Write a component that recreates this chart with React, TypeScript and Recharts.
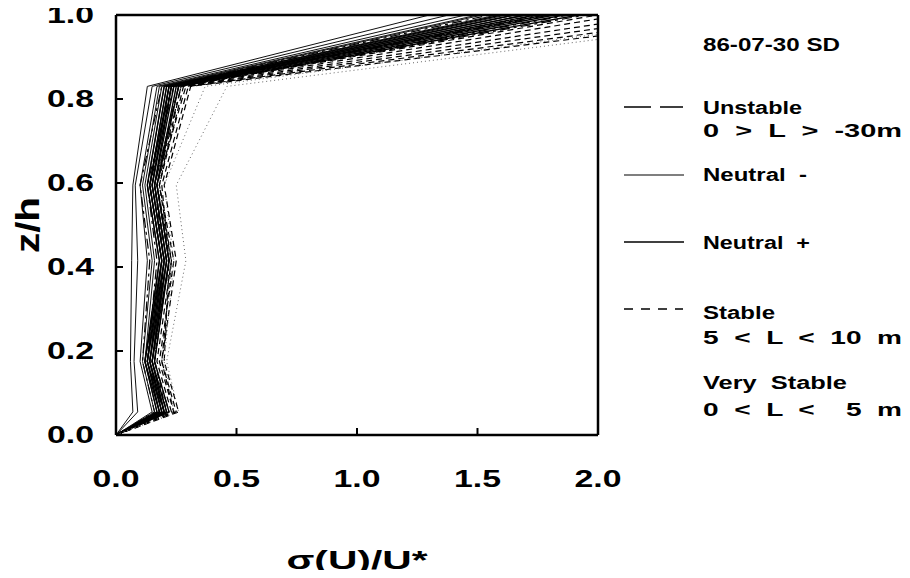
import React from "react";
import { LineChart, Line, XAxis, YAxis, Label } from "recharts";

// heights (z/h) where every profile was sampled
const HEIGHTS = [0, 0.055, 0.175, 0.415, 0.595, 0.83, 1.0];
const X_TICKS = [0, 0.5, 1, 1.5, 2];
const Y_TICKS = [0, 0.2, 0.4, 0.6, 0.8, 1];

// sigma(U)/U* at each height, one array per run
const unstable = [
  [0, 0.2, 0.14, 0.19, 0.14, 0.24, 1.75],
  [0, 0.21, 0.15, 0.21, 0.16, 0.26, 1.88],
  [0, 0.22, 0.16, 0.22, 0.17, 0.27, 1.95],
  [0, 0.16, 0.11, 0.14, 0.1, 0.19, 1.55],
  [0, 0.2, 0.13, 0.17, 0.13, 0.23, 1.8],
];
const neutralMinus = [
  [0, 0.07, 0.06, 0.065, 0.07, 0.13, 1.3],
  [0, 0.09, 0.075, 0.09, 0.08, 0.15, 1.38],
  [0, 0.15, 0.1, 0.13, 0.1, 0.17, 1.45],
  [0, 0.17, 0.12, 0.16, 0.12, 0.19, 1.52],
  [0, 0.18, 0.13, 0.18, 0.13, 0.2, 1.58],
  [0, 0.16, 0.11, 0.15, 0.11, 0.18, 1.5],
  [0, 0.19, 0.14, 0.19, 0.14, 0.21, 1.62],
  [0, 0.2, 0.15, 0.2, 0.15, 0.22, 1.66],
];
const neutralPlus = [
  [0, 0.17, 0.12, 0.18, 0.13, 0.2, 1.6],
  [0, 0.18, 0.13, 0.19, 0.14, 0.21, 1.65],
  [0, 0.19, 0.13, 0.2, 0.15, 0.22, 1.7],
  [0, 0.19, 0.14, 0.2, 0.15, 0.23, 1.74],
  [0, 0.2, 0.14, 0.21, 0.16, 0.23, 1.78],
  [0, 0.2, 0.15, 0.21, 0.16, 0.24, 1.82],
  [0, 0.21, 0.15, 0.22, 0.17, 0.25, 1.86],
  [0, 0.22, 0.16, 0.22, 0.17, 0.26, 1.92],
  [0, 0.18, 0.12, 0.19, 0.14, 0.22, 1.7],
];
const stable = [
  [0, 0.23, 0.17, 0.23, 0.18, 0.27, 2.1],
  [0, 0.24, 0.18, 0.24, 0.18, 0.28, 2.25],
  [0, 0.25, 0.19, 0.23, 0.17, 0.29, 2.4],
  [0, 0.26, 0.2, 0.22, 0.19, 0.3, 2.55],
  [0, 0.24, 0.19, 0.25, 0.2, 0.31, 2.7],
  [0, 0.21, 0.16, 0.2, 0.16, 0.26, 2.0],
];
const veryStable = [
  [0, 0.26, 0.21, 0.29, 0.25, 0.46, 2.8],
  [0, 0.24, 0.2, 0.24, 0.2, 0.37, 2.6],
];

const FONT = "'Liberation Sans', Arial, sans-serif";

const groups = [
  { key: "unstable", runs: unstable, stroke: "#000", width: 1.2, dash: "10 4 3 4" },
  { key: "nminus", runs: neutralMinus, stroke: "#111", width: 1, dash: undefined },
  { key: "nplus", runs: neutralPlus, stroke: "#000", width: 1.4, dash: undefined },
  { key: "stable", runs: stable, stroke: "#000", width: 1.2, dash: "6 4" },
  { key: "vstable", runs: veryStable, stroke: "#666", width: 1, dash: "1 3" },
];

const toPoints = (vals: number[]) => vals.map((s, i) => ({ s, z: HEIGHTS[i] }));

const XTick = (props: any) => {
  const { x, y, payload } = props;
  return (
    <g>
      <line x1={x} y1={y - 10} x2={x} y2={y - 17} stroke="#000" strokeWidth={2} />
      <text
        x={x}
        y={y + 42}
        textAnchor="middle"
        fontFamily={FONT}
        fontWeight="bold"
        fontSize={23}
        textLength={47}
        lengthAdjust="spacingAndGlyphs"
        fill="#000"
      >
        {Number(payload.value).toFixed(1)}
      </text>
    </g>
  );
};

const YTick = (props: any) => {
  const { x, y, payload } = props;
  return (
    <g>
      <line x1={x + 22} y1={y} x2={x + 29} y2={y} stroke="#000" strokeWidth={2} />
      <text
        x={x}
        y={y + 8.2}
        textAnchor="end"
        fontFamily={FONT}
        fontWeight="bold"
        fontSize={23}
        textLength={47}
        lengthAdjust="spacingAndGlyphs"
        fill="#000"
      >
        {Number(payload.value).toFixed(1)}
      </text>
    </g>
  );
};

const legendText = [
  { text: "86-07-30 SD", y: 45, w: 137 },
  { text: "Unstable", y: 108, w: 99 },
  { text: "0  >  L  >  -30m", y: 131, w: 199 },
  { text: "Neutral  -", y: 175, w: 104 },
  { text: "Neutral  +", y: 243, w: 107 },
  { text: "Stable", y: 313, w: 72 },
  { text: "5  <  L  <  10  m", y: 338, w: 199 },
  { text: "Very  Stable", y: 383, w: 144 },
  { text: "0  <  L  <    5  m", y: 410, w: 199 },
];

const LegendBox = () => (
  <svg
    width={910}
    height={578}
    style={{ position: "absolute", left: 0, top: 0, pointerEvents: "none" }}
  >
    <line x1={624} y1={107} x2={683} y2={107} stroke="#000" strokeWidth={1.3} strokeDasharray="27 9" />
    <line x1={624} y1={175} x2={684} y2={175} stroke="#000" strokeWidth={1.1} />
    <line x1={624} y1={242} x2={684} y2={242} stroke="#000" strokeWidth={1.3} />
    <line x1={624} y1={309} x2={683} y2={309} stroke="#000" strokeWidth={1.4} strokeDasharray="9 8" />
    {legendText.map((t) => (
      <text
        key={t.text}
        x={703}
        y={t.y + 6.3}
        fontFamily={FONT}
        fontWeight="bold"
        fontSize={17.5}
        textLength={t.w}
        lengthAdjust="spacingAndGlyphs"
        style={{ whiteSpace: "pre" }}
        fill="#000"
      >
        {t.text}
      </text>
    ))}
  </svg>
);

const frame = { stroke: "#000", strokeWidth: 2.5 };
const tickStroke = { stroke: "#000", strokeWidth: 2 };

export default function App() {
  return (
    <div style={{ position: "relative", width: 910, height: 578, margin: -8, background: "#fff" }}>
      <LineChart width={910} height={578} margin={{ top: 15, right: 312, bottom: 83, left: 0 }}>
        <XAxis
          xAxisId="x"
          dataKey="s"
          type="number"
          domain={[0, 2]}
          ticks={X_TICKS}
          allowDataOverflow
          height={60}
          tickSize={0}
          tickMargin={10}
          tickLine={false}
          axisLine={frame}
          tick={<XTick />}
        >
          <Label
            content={(p: any) => {
              const vb = p.viewBox;
              return (
                <text
                  x={vb.x + vb.width / 2}
                  y={vb.y + 134}
                  textAnchor="middle"
                  fontFamily={FONT}
                  fontWeight="bold"
                  fontSize={25}
                  textLength={141}
                  lengthAdjust="spacingAndGlyphs"
                  fill="#000"
                >
                  σ(U)/U*
                </text>
              );
            }}
          />
        </XAxis>
        <XAxis
          xAxisId="top"
          orientation="top"
          type="number"
          domain={[0, 2]}
          ticks={X_TICKS}
          allowDataOverflow
          mirror
          height={1}
          tick={false}
          tickSize={7}
          tickLine={tickStroke}
          axisLine={frame}
        />
        <YAxis
          yAxisId="y"
          dataKey="z"
          type="number"
          domain={[0, 1]}
          ticks={Y_TICKS}
          allowDataOverflow
          width={116}
          tickSize={0}
          tickMargin={22}
          tickLine={false}
          axisLine={frame}
          tick={<YTick />}
        >
          <Label
            content={(p: any) => {
              const vb = p.viewBox;
              const cy = vb.y + vb.height / 2;
              return (
                <text
                  transform={`translate(28, ${cy}) scale(1.25, 1) rotate(-90)`}
                  x={0}
                  y={9}
                  textAnchor="middle"
                  fontFamily={FONT}
                  fontWeight="bold"
                  fontSize={27}
                  textLength={56}
                  lengthAdjust="spacingAndGlyphs"
                  fill="#000"
                >
                  z/h
                </text>
              );
            }}
          />
        </YAxis>
        <YAxis
          yAxisId="right"
          orientation="right"
          type="number"
          domain={[0, 1]}
          ticks={Y_TICKS}
          allowDataOverflow
          mirror
          width={1}
          tick={false}
          tickSize={7}
          tickLine={tickStroke}
          axisLine={frame}
        />
        {groups.map((g) =>
          g.runs.map((run, i) => (
            <Line
              key={`${g.key}-${i}`}
              xAxisId="x"
              yAxisId="y"
              data={toPoints(run)}
              dataKey="z"
              type="linear"
              stroke={g.stroke}
              strokeWidth={g.width}
              strokeDasharray={g.dash}
              dot={false}
              activeDot={false}
              legendType="none"
              isAnimationActive={false}
            />
          ))
        )}
      </LineChart>
      <LegendBox />
    </div>
  );
}
